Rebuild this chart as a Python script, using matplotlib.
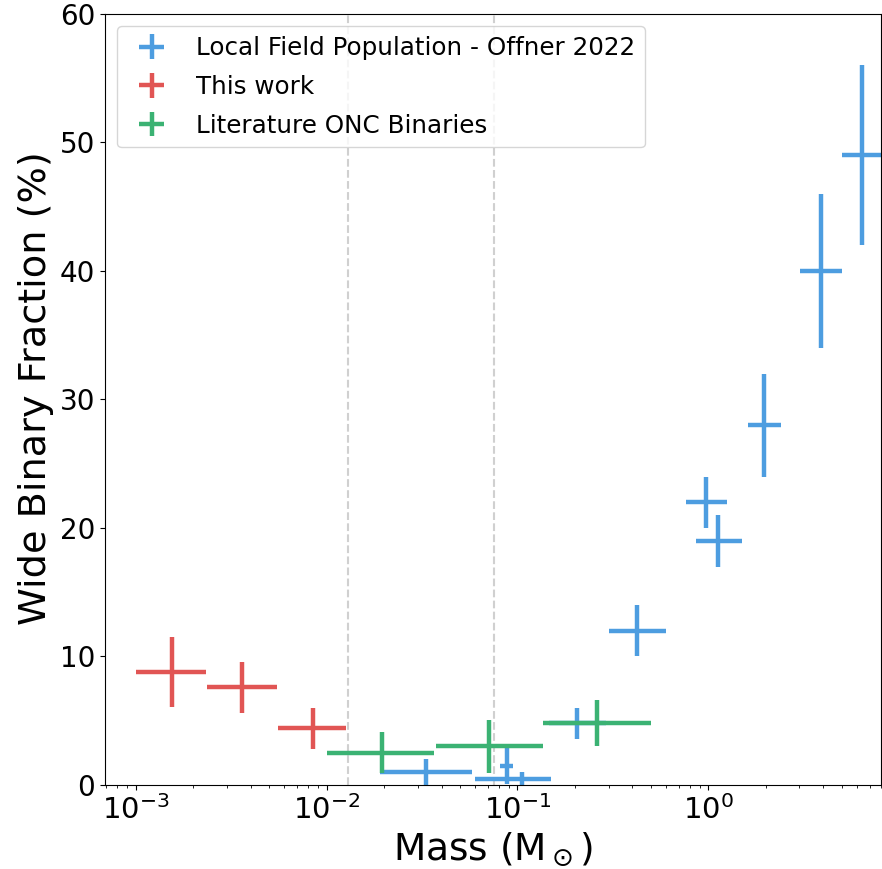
import numpy as np
import matplotlib
matplotlib.use("Agg")
import matplotlib.pyplot as plt

# Offner 2022 field population
field_m = [0.0333, 0.088, 0.1054, 0.206, 0.425, 0.97, 1.13, 1.97, 3.89, 6.38]
field_m_lo = [0.019, 0.0812, 0.060, 0.147, 0.302, 0.76, 0.86, 1.61, 3.02, 5.05]
field_m_hi = [0.058, 0.0946, 0.150, 0.291, 0.600, 1.26, 1.50, 2.40, 5.00, 8.0]
field_f = [1.0, 1.5, 0.5, 4.8, 12, 22, 19, 28, 40, 49]
field_ferr = [1.0, 1.4, 0.5, 1.2, 2, 2, 2, 4, 6, 7]

# this work
tw_m = [1.54e-3, 3.62e-3, 8.5e-3]
tw_m_lo = [1.0e-3, 2.37e-3, 5.57e-3]
tw_m_hi = [2.34e-3, 5.5e-3, 1.27e-2]
tw_f = [8.8, 7.6, 4.4]
tw_ferr = [2.75, 2.0, 1.6]

# literature ONC binaries
onc_m = [0.0194, 0.0708, 0.261]
onc_m_lo = [0.010, 0.0372, 0.136]
onc_m_hi = [0.0367, 0.1355, 0.499]
onc_f = [2.5, 3.0, 4.8]
onc_ferr = [1.6, 2.05, 1.8]

# deuterium / hydrogen burning limits
dbl = 0.013
hbl = 0.075


def xerr(m, lo, hi):
    m = np.array(m)
    return [m - np.array(lo), np.array(hi) - m]


fig = plt.figure(figsize=(8.82, 8.69), dpi=100)
ax = fig.add_axes([0.119, 0.0967, 0.880, 0.8872])

lw = 3.2
ax.errorbar(field_m, field_f, xerr=xerr(field_m, field_m_lo, field_m_hi),
            yerr=field_ferr, fmt='none', ecolor='#4D9DE0', elinewidth=lw,
            capsize=0, label='Local Field Population - Offner 2022')
ax.errorbar(tw_m, tw_f, xerr=xerr(tw_m, tw_m_lo, tw_m_hi),
            yerr=tw_ferr, fmt='none', ecolor='#E15554', elinewidth=lw,
            capsize=0, label='This work')
ax.errorbar(onc_m, onc_f, xerr=xerr(onc_m, onc_m_lo, onc_m_hi),
            yerr=onc_ferr, fmt='none', ecolor='#3BB273', elinewidth=lw,
            capsize=0, label='Literature ONC Binaries')

ax.axvline(dbl, color='#d0d0d0', ls='--', lw=1.5, zorder=0.5)
ax.axvline(hbl, color='#d0d0d0', ls='--', lw=1.5, zorder=0.5)

ax.set_xscale('log')
ax.set_xlim(6.89e-4, 8.05)
ax.set_ylim(0, 60)
ax.set_yticks(np.arange(0, 61, 10))
ax.tick_params(axis='y', labelsize=20)
ax.tick_params(axis='x', labelsize=21)

ax.set_xlabel(r'Mass (M$_\odot$)', fontsize=27)
ax.set_ylabel('Wide Binary Fraction (%)', fontsize=27.5, y=0.515)

ax.legend(loc='upper left', fontsize=17.7, labelspacing=0.6,
          borderaxespad=0.5)

fig.savefig('out.png', dpi=100)
